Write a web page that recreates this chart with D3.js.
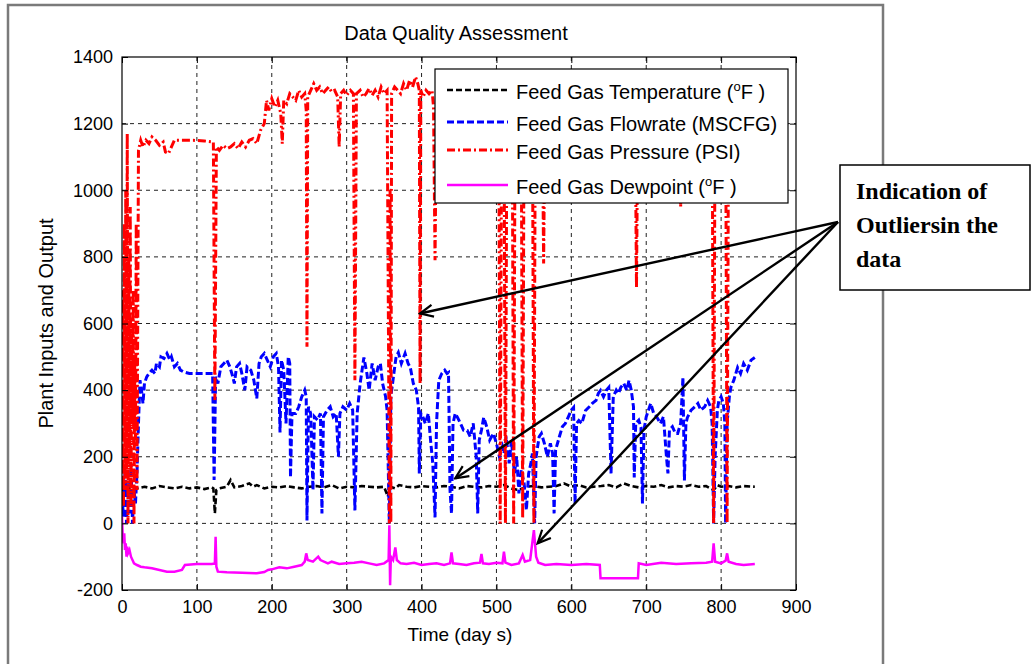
<!DOCTYPE html>
<html>
<head>
<meta charset="utf-8">
<script src="https://cdn.jsdelivr.net/npm/d3@7"></script>
<style>
  body { margin: 0; background: #fff; }
  svg { font-family: "Liberation Sans", Arial, sans-serif; }
</style>
</head>
<body>
<svg id="chart" width="1036" height="664"></svg>
<script>
// series, [day, value]
const temperature = [[0,140],[2,80],[4,130],[6,90],[8,120],[10,100],[14,110],[20,105],[30,110],[40,105],[50,112],[60,108],[70,105],[80,110],[90,105],[100,108],[110,103],[120,108],[122,105],[124,30],[126,100],[130,105],[140,110],[145,130],[150,108],[160,112],[170,120],[175,110],[180,115],[190,105],[200,110],[210,108],[220,112],[230,108],[240,105],[250,110],[260,112],[270,108],[280,115],[290,105],[300,110],[310,108],[320,112],[330,110],[340,108],[350,110],[355,80],[358,110],[365,105],[370,115],[380,110],[390,108],[400,112],[410,110],[420,108],[430,112],[440,110],[450,105],[460,112],[470,110],[480,108],[490,112],[500,110],[510,115],[520,105],[530,100],[540,110],[550,112],[560,108],[570,110],[580,112],[590,120],[600,110],[610,115],[620,108],[630,110],[640,112],[650,115],[660,108],[670,120],[680,112],[690,108],[700,112],[710,110],[720,115],[730,108],[740,112],[750,110],[760,115],[770,110],[780,112],[790,100],[795,115],[800,110],[810,112],[820,108],[830,112],[845,110]];

const flowrate = [[0,80],[2,20],[4,150],[6,0],[8,120],[10,30],[12,180],[14,0],[16,100],[18,60],[20,150],[22,300],[24,430],[26,400],[28,360],[30,420],[33,440],[36,450],[40,460],[44,450],[46,480],[50,470],[52,500],[56,495],[60,510],[64,490],[66,500],[70,470],[74,480],[78,460],[82,455],[90,450],[100,450],[110,450],[121,450],[123,130],[125,440],[128,420],[132,470],[136,480],[140,490],[144,470],[148,440],[150,420],[153,470],[157,480],[160,450],[164,400],[167,470],[172,460],[176,430],[180,375],[183,480],[186,500],[190,510],[194,490],[198,470],[202,500],[206,510],[209,470],[211,273],[213,490],[216,460],[219,300],[222,500],[224,480],[225,138],[227,330],[232,330],[236,350],[240,380],[244,400],[246,380],[247,9],[249,350],[252,330],[255,100],[257,320],[261,310],[265,330],[267,30],[269,320],[274,340],[278,350],[282,320],[286,330],[289,200],[291,330],[295,350],[300,340],[304,360],[308,340],[311,39],[314,330],[318,420],[323,498],[327,450],[330,400],[334,480],[338,430],[342,470],[345,480],[348,420],[352,380],[354,339],[357,0],[359,380],[363,450],[366,500],[369,513],[373,480],[378,510],[382,480],[385,468],[389,420],[393,400],[396,348],[397,150],[399,330],[402,318],[405,300],[409,330],[412,250],[415,180],[418,18],[420,300],[423,429],[427,450],[431,460],[434,450],[436,453],[438,100],[440,30],[442,300],[445,330],[448,318],[452,300],[456,280],[461,279],[465,260],[469,300],[473,200],[475,30],[477,250],[480,280],[483,318],[487,290],[491,250],[496,270],[500,240],[504,200],[508,230],[510,210],[513,260],[517,180],[520,250],[524,150],[527,200],[530,90],[533,160],[537,120],[540,40],[543,150],[546,180],[548,210],[551,0],[553,200],[557,260],[560,270],[564,240],[568,200],[572,240],[575,210],[577,30],[579,220],[584,260],[588,290],[592,300],[596,320],[600,340],[603,348],[605,60],[607,300],[610,309],[614,300],[619,339],[624,350],[628,360],[633,369],[636,390],[639,399],[643,380],[647,400],[650,408],[653,150],[656,380],[660,400],[663,390],[666,408],[670,420],[674,400],[677,429],[680,400],[683,350],[684,138],[686,300],[690,310],[693,288],[695,60],[697,280],[700,320],[703,340],[706,360],[710,330],[714,320],[719,300],[723,320],[727,200],[729,150],[731,280],[735,290],[739,270],[742,270],[746,300],[749,438],[751,129],[753,300],[755,318],[760,340],[765,350],[769,360],[773,340],[778,350],[782,369],[786,350],[788,300],[790,0],[792,200],[795,340],[797,369],[800,380],[803,360],[805,300],[806,0],[808,300],[811,380],[813,408],[817,430],[822,468],[826,450],[830,480],[835,460],[840,490],[845,498]];

const pressure = [[0,200],[1,700],[2,50],[3,900],[4,100],[5,1000],[6,150],[7,1170],[8,0],[9,800],[10,200],[11,950],[12,50],[13,600],[14,300],[15,700],[16,0],[17,500],[18,250],[19,900],[20,100],[22,1120],[25,1150],[28,1130],[32,1150],[36,1140],[40,1160],[45,1150],[50,1135],[55,1145],[58,1115],[62,1110],[66,1130],[70,1150],[80,1150],[95,1150],[110,1148],[122,1145],[124,370],[126,1130],[130,1120],[135,1135],[140,1125],[145,1130],[150,1140],[155,1125],[160,1145],[165,1130],[170,1150],[175,1155],[180,1140],[185,1180],[190,1200],[193,1270],[196,1240],[200,1275],[204,1250],[208,1270],[212,1230],[214,1140],[216,1270],[220,1260],[224,1290],[228,1280],[232,1270],[236,1300],[240,1280],[244,1290],[246,1240],[247,530],[248,1280],[252,1300],[256,1320],[260,1300],[264,1310],[268,1290],[272,1300],[276,1310],[280,1295],[284,1300],[288,1280],[290,1130],[292,1290],[296,1300],[300,1285],[305,1300],[309,1290],[311,430],[313,1290],[318,1300],[322,1280],[326,1290],[330,1305],[334,1285],[338,1300],[342,1280],[346,1310],[350,1290],[354,1300],[356,500],[357,0],[358,1000],[359,0],[360,1290],[364,1310],[368,1300],[372,1290],[376,1320],[380,1300],[384,1330],[388,1310],[392,1340],[395,1320],[397,1300],[398,420],[399,1300],[402,1280],[406,1300],[410,1290],[414,1300],[416,1250],[418,790],[420,1290],[430,1300],[460,1300],[490,1290],[503,1300],[505,0],[507,1300],[510,1300],[512,0],[514,1300],[521,1300],[523,0],[525,1300],[533,1300],[535,15],[537,1300],[548,1300],[550,0],[552,1300],[561,1300],[563,780],[565,1300],[600,1300],[650,1290],[685,1290],[687,708],[689,1290],[720,1290],[745,1290],[746,950],[747,1290],[788,1290],[790,0],[792,1290],[806,1290],[808,0],[810,1290],[845,1290]];

const dewpoint = [[0,20],[1,-40],[2,-60],[3,-30],[4,-80],[5,-60],[6,-100],[7,-70],[8,-90],[10,-80],[12,-100],[14,-110],[16,-120],[20,-125],[25,-130],[30,-132],[40,-135],[50,-140],[60,-145],[70,-145],[80,-140],[84,-125],[100,-122],[120,-122],[124,-120],[125,-40],[126,-130],[128,-145],[140,-147],[160,-148],[180,-150],[190,-146],[195,-140],[200,-138],[210,-132],[220,-135],[230,-130],[240,-125],[244,-115],[246,-90],[248,-110],[255,-115],[262,-100],[265,-110],[275,-120],[280,-115],[290,-122],[300,-120],[310,-118],[320,-115],[330,-120],[340,-125],[350,-120],[356,-110],[357,-6],[358,-186],[359,-100],[362,-110],[365,-72],[367,-110],[372,-120],[380,-122],[390,-118],[400,-125],[410,-122],[420,-120],[430,-125],[438,-120],[440,-87],[442,-120],[450,-122],[460,-125],[470,-120],[478,-118],[480,-92],[482,-120],[490,-122],[500,-118],[508,-120],[510,-85],[512,-118],[520,-125],[530,-120],[535,-95],[538,-115],[545,-110],[550,-20],[553,-100],[556,-118],[565,-125],[580,-122],[600,-125],[620,-122],[638,-125],[639,-165],[660,-165],[680,-165],[689,-165],[690,-120],[700,-125],[720,-118],[740,-122],[760,-120],[780,-118],[788,-115],[790,-60],[792,-115],[800,-120],[806,-112],[808,-90],[810,-115],[820,-122],[830,-125],[845,-122]];

const xTicks = [0, 100, 200, 300, 400, 500, 600, 700, 800, 900];
const yTicks = [-200, 0, 200, 400, 600, 800, 1000, 1200, 1400];

const legendLabels = ["Feed Gas Temperature (", "Feed Gas Flowrate (MSCFG)", "Feed Gas Pressure (PSI)", "Feed Gas Dewpoint ("];
const noteLines = ["Indication of", "Outliersin the", "data"];
// arrow targets in data units (day, value)
const arrowTargets = [[398, 630], [445, 135], [555, -60]];

const svg = d3.select("#chart");
const pL = 122, pR = 796, pT = 57, pB = 590;

const x = d3.scaleLinear().domain([0, 900]).range([pL, pR]);
const y = d3.scaleLinear().domain([-200, 1400]).range([pB, pT]);

// outer figure frame
svg.append("rect").attr("x", 8).attr("y", 5).attr("width", 875).attr("height", 680)
  .attr("fill", "none").attr("stroke", "#7a7a7a").attr("stroke-width", 2.5);

// grid
const grid = svg.append("g").attr("stroke", "#222").attr("stroke-width", 1).attr("stroke-dasharray", "4,4");
grid.selectAll(".gx").data(xTicks.slice(1, -1)).join("line")
  .attr("x1", d => x(d)).attr("x2", d => x(d)).attr("y1", pT).attr("y2", pB);
grid.selectAll(".gy").data(yTicks.slice(1, -1)).join("line")
  .attr("x1", pL).attr("x2", pR).attr("y1", d => y(d)).attr("y2", d => y(d));

svg.append("clipPath").attr("id", "plotclip").append("rect")
  .attr("x", pL).attr("y", pT).attr("width", pR - pL).attr("height", pB - pT);

const line = d3.line().x(d => x(d[0])).y(d => y(d[1]));
const series = [
  { data: temperature, color: "#000", dash: "6,3", width: 2.6 },
  { data: flowrate, color: "#0000ff", dash: "7,3", width: 3 },
  { data: pressure, color: "#ff0000", dash: "8,3,2,3", width: 3 },
  { data: dewpoint, color: "#ff00ff", dash: null, width: 2.5 }
];
const plot = svg.append("g").attr("clip-path", "url(#plotclip)");
series.forEach(s => {
  plot.append("path").datum(s.data).attr("d", line)
    .attr("fill", "none").attr("stroke", s.color).attr("stroke-width", s.width)
    .attr("stroke-dasharray", s.dash).attr("stroke-linejoin", "miter");
});

// axes, MATLAB style: ticks inside, box all round
const fmt = d => String(d);   // plain hyphen for -200
svg.append("g").attr("transform", `translate(0,${pB})`)
  .call(d3.axisBottom(x).tickValues(xTicks).tickFormat(fmt).tickSize(-6).tickPadding(10))
  .call(g => g.select(".domain").remove())
  .call(g => g.selectAll("text").attr("font-size", 18).attr("font-family", "Liberation Sans"));
svg.append("g").attr("transform", `translate(${pL},0)`)
  .call(d3.axisLeft(y).tickValues(yTicks).tickFormat(fmt).tickSize(-6).tickPadding(9))
  .call(g => g.select(".domain").remove())
  .call(g => g.selectAll("text").attr("font-size", 18).attr("font-family", "Liberation Sans"));
svg.append("g").attr("transform", `translate(0,${pT})`)
  .call(d3.axisTop(x).tickValues(xTicks).tickFormat("").tickSize(-6))
  .call(g => g.select(".domain").remove());
svg.append("g").attr("transform", `translate(${pR},0)`)
  .call(d3.axisRight(y).tickValues(yTicks).tickFormat("").tickSize(-6))
  .call(g => g.select(".domain").remove());
svg.append("rect").attr("x", pL).attr("y", pT).attr("width", pR - pL).attr("height", pB - pT)
  .attr("fill", "none").attr("stroke", "#000").attr("stroke-width", 1.2);

// titles
svg.append("text").attr("x", 456).attr("y", 40).attr("text-anchor", "middle")
  .attr("font-size", 20).text("Data Quality Assessment");
svg.append("text").attr("x", 460).attr("y", 641).attr("text-anchor", "middle")
  .attr("font-size", 19).text("Time (day s)");
svg.append("text").attr("transform", `translate(53,${(pT + pB) / 2}) rotate(-90)`)
  .attr("text-anchor", "middle").attr("font-size", 20).text("Plant Inputs and Output");

// legend
const legend = svg.append("g");
legend.append("rect").attr("x", 435).attr("y", 69).attr("width", 353).attr("height", 134)
  .attr("fill", "#fff").attr("stroke", "#000").attr("stroke-width", 1.2);
const rowY = [90, 122, 150, 185];
series.forEach((s, i) => {
  legend.append("line").attr("x1", 447).attr("x2", 508).attr("y1", rowY[i]).attr("y2", rowY[i])
    .attr("stroke", s.color).attr("stroke-width", s.width).attr("stroke-dasharray", s.dash);
  const t = legend.append("text").attr("x", 516).attr("y", rowY[i] + 9).attr("font-size", 20)
    .text(legendLabels[i]);
  if (i === 0 || i === 3) {
    t.append("tspan").attr("dy", -8).attr("font-size", 13).text("o");
    t.append("tspan").attr("dy", 8).text("F )");
  }
});

// annotation box with arrows
svg.append("defs").append("marker").attr("id", "head")
  .attr("viewBox", "-14 -8 16 16").attr("refX", 0).attr("refY", 0)
  .attr("markerWidth", 16).attr("markerHeight", 16).attr("markerUnits", "userSpaceOnUse")
  .attr("orient", "auto")
  .append("path").attr("d", "M-13,-6 L0,0 L-13,6").attr("fill", "none")
  .attr("stroke", "#000").attr("stroke-width", 2.2);

const origin = [838, 222];
svg.selectAll(".arrow").data(arrowTargets).join("line")
  .attr("x1", origin[0]).attr("y1", origin[1])
  .attr("x2", d => x(d[0])).attr("y2", d => y(d[1]))
  .attr("stroke", "#000").attr("stroke-width", 2.4).attr("marker-end", "url(#head)");

svg.append("rect").attr("x", 840).attr("y", 165).attr("width", 190).attr("height", 125)
  .attr("fill", "#fff").attr("stroke", "#000").attr("stroke-width", 1.5);
svg.selectAll(".note").data(noteLines).join("text")
  .attr("x", 856).attr("y", (d, i) => 199 + i * 34)
  .style("font-family", "'Liberation Serif', 'DejaVu Serif', serif")
  .style("font-weight", "bold").style("font-size", "24px")
  .text(d => d);
</script>
</body>
</html>
